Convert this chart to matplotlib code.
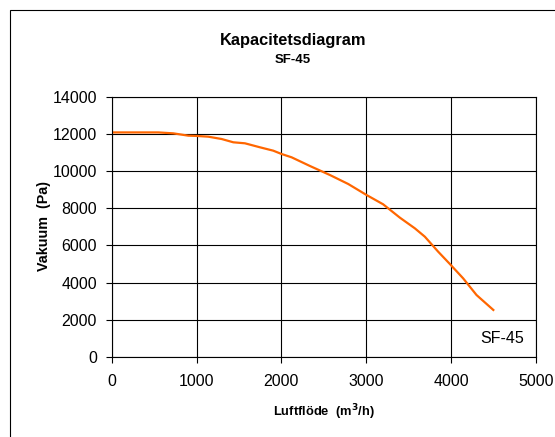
import matplotlib
matplotlib.use("Agg")
import matplotlib.pyplot as plt
from matplotlib.patches import Rectangle

plt.rcParams['font.family'] = ['Liberation Sans', 'DejaVu Sans']

airflow = [0, 549, 726, 903, 1000, 1138, 1295, 1433, 1570, 1747, 1904, 2002, 2120,
           2336, 2571, 2787, 3003, 3199, 3396, 3572, 3690, 3847, 3985, 4141, 4299, 4507]
vacuum = [12100, 12100, 12050, 11925, 11910, 11870, 11745, 11567, 11513, 11297, 11115,
          10935, 10757, 10289, 9803, 9318, 8724, 8221, 7501, 6927, 6475, 5666, 5001,
          4230, 3328, 2482]
xticks = [0, 1000, 2000, 3000, 4000, 5000]
yticks = [0, 2000, 4000, 6000, 8000, 10000, 12000, 14000]

W, H = 555, 437
fig = plt.figure(figsize=(W / 100, H / 100), dpi=100)
ax = fig.add_axes([111.7 / W, 1 - 356.7 / H, (536 - 111.7) / W, (356.7 - 97.2) / H])

ax.plot(airflow, vacuum, color='#FF6600', lw=1.6, solid_capstyle='butt')
ax.set_xlim(0, 5000)
ax.set_ylim(0, 14000)
ax.set_xticks(xticks)
ax.set_yticks(yticks)
ax.grid(True, color='black', lw=0.8)
ax.set_axisbelow(True)
for s in ax.spines.values():
    s.set_color('black')
    s.set_linewidth(0.8)
ax.tick_params(axis='both', labelsize=11.5, length=4, width=0.8, direction='out')
ax.tick_params(axis='x', pad=8.5)
ax.tick_params(axis='y', pad=6.5)

fig.text(324 / W, 1 - 416 / H, 'Luftflöde  (m$^\\mathbf{3}$/h)', fontsize=9.3,
         fontweight='bold', ha='center', va='baseline')
fig.text(44 / W, 1 - 226 / H, 'Vakuum  (Pa)', fontsize=10.3, fontweight='bold',
         rotation=90, ha='center', va='center')

ax.text(4597, 723, 'SF-45', fontsize=11.5, ha='center', va='baseline')

fig.text(293 / W, 1 - 45 / H, 'Kapacitetsdiagram', fontsize=11.8, fontweight='bold',
         ha='center', va='baseline')
fig.text(293 / W, 1 - 63.3 / H, 'SF-45', fontsize=9.5, fontweight='bold',
         ha='center', va='baseline')

fig.patches.append(Rectangle((10 / W, -0.1), 1.2, 1.1 - 10.5 / H, transform=fig.transFigure,
                             fill=False, edgecolor='black', lw=0.8))

fig.savefig('out.png', dpi=100)
